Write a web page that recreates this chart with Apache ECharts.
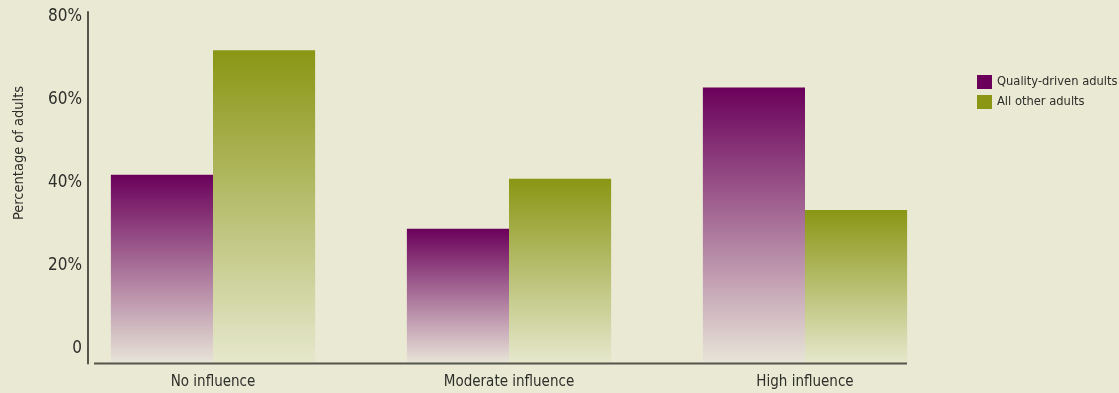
<!DOCTYPE html>
<html>
<head>
<meta charset="utf-8">
<style>
  html, body { margin: 0; padding: 0; background: #e9e9d4; }
  #chart { width: 1119px; height: 393px; }
</style>
<script src="https://cdn.jsdelivr.net/npm/echarts@6/dist/echarts.min.js"></script>
</head>
<body>
<div id="chart"></div>
<script>
const categories = ['No influence', 'Moderate influence', 'High influence'];
const seriesNames = ['Quality-driven adults', 'All other adults'];
const qualityDriven = [42, 29, 63];
const allOther = [72, 41, 33.5];
const yTickValues = [0, 20, 40, 60, 80];

const FONT = "'Liberation Sans Narrow', 'DejaVu Sans Condensed', sans-serif";
const TEXT = '#2e2e2a';
const AXIS_MIN = -3.5;
const PURPLE = '#6b005b';
const OLIVE = '#8a9614';

function grad(top, bottom) {
  return new echarts.graphic.LinearGradient(0, 0, 0, 1, [
    { offset: 0, color: top },
    { offset: 1, color: bottom }
  ]);
}

const chart = echarts.init(document.getElementById('chart'), null, { renderer: 'canvas' });
chart.setOption({
  backgroundColor: '#e9e9d4',
  animation: false,
  textStyle: { fontFamily: FONT },
  grid: { left: 65, right: 166, top: 12, bottom: 29.5, containLabel: false },
  legend: {
    left: 977, top: 75, orient: 'vertical', padding: 0,
    itemWidth: 15, itemHeight: 14, itemGap: 6, icon: 'rect',
    textStyle: { fontFamily: FONT, fontSize: 12.8, color: TEXT },
    data: [
      { name: seriesNames[0], itemStyle: { color: PURPLE } },
      { name: seriesNames[1], itemStyle: { color: OLIVE } }
    ]
  },
  xAxis: {
    type: 'category', data: categories,
    axisLine: { show: false }, axisTick: { show: false },
    axisLabel: { fontFamily: FONT, fontSize: 15, color: TEXT, margin: 11 }
  },
  yAxis: {
    type: 'value', min: AXIS_MIN, max: 81.2, startValue: AXIS_MIN,
    offset: -23,
    axisLine: { show: true, lineStyle: { color: '#55554c', width: 2 } },
    axisTick: { show: false },
    splitLine: { show: false },
    axisLabel: {
      customValues: yTickValues,
      fontFamily: FONT, fontSize: 17, color: TEXT, margin: 6,
      formatter: v => v === 0 ? '0' : v + '%'
    }
  },
  series: [
    {
      name: seriesNames[0], type: 'bar', data: qualityDriven,
      barGap: '0%', barCategoryGap: '31%',
      color: PURPLE,
      itemStyle: { color: grad(PURPLE, '#e8e5d8') }
    },
    {
      name: seriesNames[1], type: 'bar', data: allOther,
      barGap: '0%', barCategoryGap: '31%',
      color: OLIVE,
      itemStyle: { color: grad(OLIVE, '#e6e8cd') }
    }
  ],
  graphic: [
    {
      type: 'line', z: 100,
      shape: { x1: 94, y1: 363.5, x2: 907, y2: 363.5 },
      style: { stroke: '#55554c', lineWidth: 2 }
    },
    {
      type: 'text', x: 19, y: 153, rotation: Math.PI / 2,
      style: {
        text: 'Percentage of adults', fill: TEXT,
        font: '14.5px ' + FONT, textAlign: 'center', textVerticalAlign: 'middle'
      }
    }
  ]
});
</script>
</body>
</html>
